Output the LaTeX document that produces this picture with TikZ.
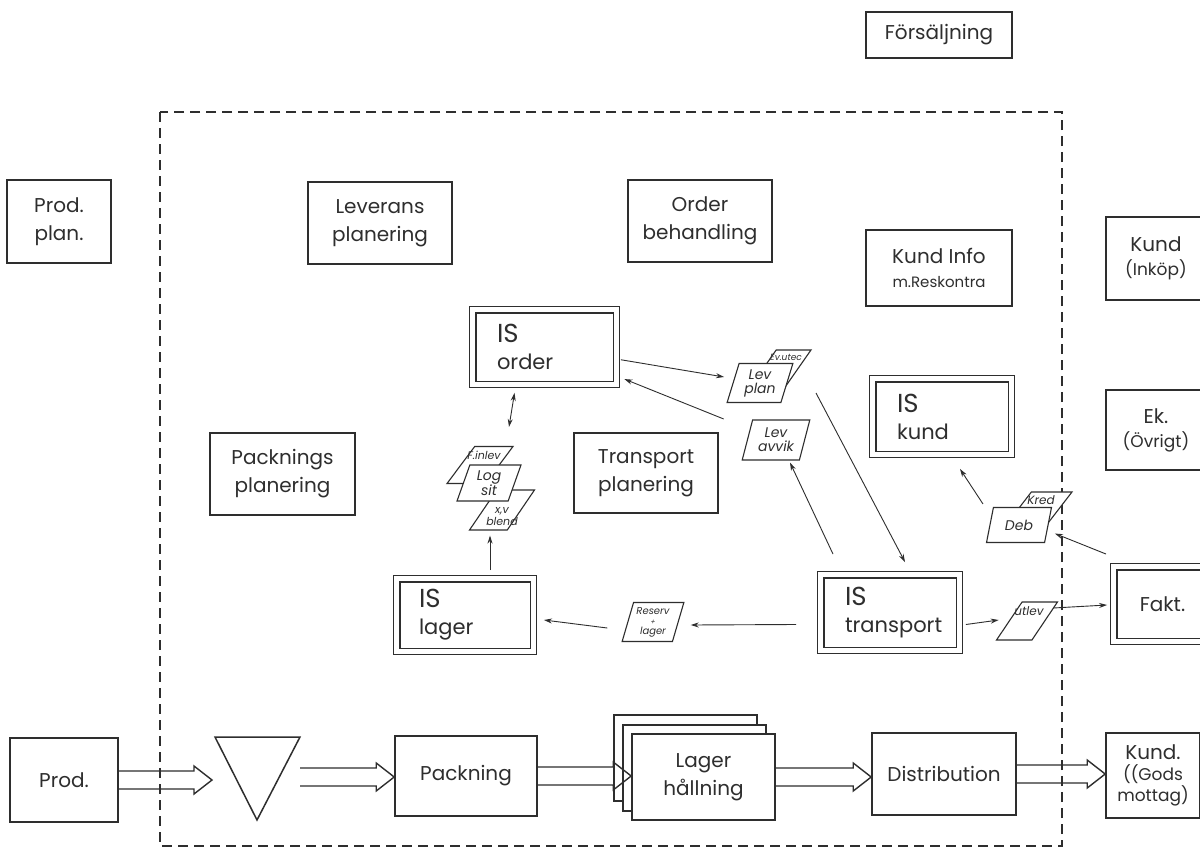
\documentclass[tikz,border=0pt]{standalone}
\usepackage{fontspec}
\setmainfont{Poppins}
\usetikzlibrary{shapes.geometric,arrows.meta,calc}
\definecolor{ink}{HTML}{2E2E2E}
\tikzset{
  >={Stealth[length=8pt,width=5pt]},
  box/.style={draw=ink, line width=1.6pt, inner sep=0pt, align=center, text=ink,
    font=\fontsize{20}{28}\selectfont},
  dbox/.style={draw=ink, line width=1.3pt, double=white, double distance=5pt,
    inner sep=0pt, align=left, text=ink, font=\fontsize{21}{27}\selectfont},
  doc/.style={draw=ink, fill=white, line width=1.1pt, trapezium, trapezium left angle=72,
    trapezium right angle=108, trapezium stretches=true, inner sep=1pt, align=center,
    text=ink, font=\itshape\fontsize{14}{14}\selectfont},
  docfont/.style={text=ink, inner sep=0pt, align=center, font=\itshape\fontsize{13}{14}\selectfont},
  conn/.style={draw=ink, line width=0.9pt, ->},
  flowline/.style={draw=ink, line width=1.4pt, line join=miter},
  flow/.style={to path={let \p1=(\tikztostart), \p2=(\tikztotarget) in
    (\x1,\y1+9pt) -- (\x2-18pt,\y1+9pt) -- (\x2-18pt,\y1+14pt) -- (\x2,\y1)
    -- (\x2-18pt,\y1-14pt) -- (\x2-18pt,\y1-9pt) -- (\x1,\y1-9pt)}},
  boundary/.style={draw=ink, line width=1.3pt, dash pattern=on 10pt off 6pt}
}
\newcommand\IS[1]{{\fontsize{26}{27}\selectfont IS}\\#1}
\begin{document}
\begin{tikzpicture}[x=1pt,y=-1pt]
\path[use as bounding box] (0,0) rectangle (1200,851);
\clip (0,0) rectangle (1200,851);
\fill[white] (0,0) rectangle (1200,851);

% system boundary
\draw[boundary] (160,112) rectangle (1062,846);

% plain boxes
\node[box, minimum width=146pt, minimum height=46pt] (forsalj) at (939,35) {Försäljning};
\node[box, minimum width=104pt, minimum height=83pt] (prodplan) at (59,221.5) {Prod.\\plan.};
\node[box, minimum width=144pt, minimum height=82pt] (leverans) at (380,223) {Leverans\\planering};
\node[box, minimum width=144pt, minimum height=82pt] (orderbeh) at (700,221) {Order\\behandling};
\node[box, minimum width=146pt, minimum height=76pt] (kundinfo) at (939,268) {Kund Info\\[-4pt]{\fontsize{15}{20}\selectfont m.Reskontra}};
\node[box, minimum width=100pt, minimum height=83pt] (kundinkop) at (1156,258.5) {Kund\\[-4pt]{\fontsize{17}{22}\selectfont (Inköp)}};
\node[box, minimum width=100pt, minimum height=80pt] (ek) at (1156,430) {Ek.\\[-4pt]{\fontsize{17}{22}\selectfont (Övrigt)}};
\node[box, minimum width=145pt, minimum height=82pt] (packplan) at (282.5,474) {Packnings\\planering};
\node[box, minimum width=144pt, minimum height=80pt] (transplan) at (646,473) {Transport\\planering};

% IS boxes (double border)
\node[dbox, minimum width=143.6pt, minimum height=74.6pt, text width=95pt] (isorder) at (544.5,347) {\IS{order}};
\node[dbox, minimum width=138.6pt, minimum height=75.6pt, text width=90pt] (iskund) at (942,416.5) {\IS{kund}};
\node[dbox, minimum width=136.6pt, minimum height=72.6pt, text width=92pt] (islager) at (465,615) {\IS{lager}};
\node[dbox, minimum width=138.6pt, minimum height=75.6pt, text width=90pt] (istransport) at (890,612.5) {\IS{transport}};
\node[dbox, minimum width=97.6pt, minimum height=74.6pt, align=center, font=\fontsize{20}{24}\selectfont] (fakt) at (1162.5,604) {Fakt.};

% material flow
\node[box, minimum width=108pt, minimum height=84pt] (prod) at (64,780) {Prod.};
\draw[draw=ink, line width=1.5pt, line join=miter] (215,737) -- (300,737) -- (257,820) -- cycle;
\coordinate (trileft) at (212,780);
\coordinate (triright) at (300,777);
\node[box, minimum width=142pt, minimum height=80pt] (packning) at (466,776) {Packning};
\draw[draw=ink, fill=white, line width=1.5pt] (614,715) rectangle (757,801);
\draw[draw=ink, fill=white, line width=1.5pt] (623,725) rectangle (766,811);
\node[box, fill=white, minimum width=143pt, minimum height=86pt] (lager) at (703.5,777) {Lager\\hållning};
\node[box, minimum width=144pt, minimum height=82pt] (distribution) at (944,774) {Distribution};
\node[box, minimum width=94pt, minimum height=85pt, font=\fontsize{17}{21}\selectfont] (kundgods) at (1153,775.5) {{\fontsize{20}{24}\selectfont Kund.}\\((Gods\\mottag)};

\draw[flowline] (prod.east) to[flow] (trileft);
\draw[flowline] (triright) to[flow] (packning.west);
\draw[flowline] (packning.east) to[flow] (lager.west);
\draw[flowline] (lager.east) to[flow] (distribution.west);
\draw[flowline] (distribution.east) to[flow] (kundgods.west);

% documents
\node[doc, minimum width=60pt, minimum height=36pt] (evutec) at (781,368) {\strut};
\node[docfont, font=\itshape\fontsize{9}{10}\selectfont] (evutectxt) at ($(evutec.north)+(5,8)$) {Ev.utec};
\node[doc, minimum width=66pt, minimum height=39pt] (levplan) at (760,383) {Lev\\plan};
\node[doc, minimum width=68pt, minimum height=40pt] (levavvik) at (776,440) {Lev\\avvik};
\node[doc, minimum width=66pt, minimum height=37pt] (finlev) at (480,465) {\strut};
\node[docfont, font=\itshape\fontsize{11}{12}\selectfont] (finlevtxt) at ($(finlev.north)+(4,9)$) {F.inlev};
\node[doc, minimum width=65pt, minimum height=40pt] (xvblend) at (502,510) {\strut};
\node[docfont, font=\itshape\fontsize{11}{12}\selectfont] (xvblendtxt) at ($(xvblend.south)+(0,-14)$) {x,v\\blend};
\node[doc, minimum width=64pt, minimum height=36pt] (logsit) at (489,483) {Log\\sit};
\node[doc, minimum width=62pt, minimum height=39pt, font=\itshape\fontsize{10}{11}\selectfont] (reserv) at (653,622) {Reserv\\[-1pt]{\fontsize{7}{7}\selectfont +}\\[-1pt]lager};
\node[doc, minimum width=70pt, minimum height=38pt] (kred) at (1037,511) {\strut};
\node[docfont, font=\itshape\fontsize{12}{13}\selectfont] (kredtxt) at ($(kred.north)+(4,9)$) {Kred};
\node[doc, minimum width=65pt, minimum height=35pt] (deb) at (1019,525) {Deb};
\node[doc, minimum width=61pt, minimum height=38pt] (utlev) at (1027,621) {\strut};
\node[docfont, font=\itshape\fontsize{12}{13}\selectfont] (utlevtxt) at ($(utlev.north)+(2,10)$) {utlev};

% information flow
\draw[conn, shorten <=4pt, shorten >=10pt] (isorder) -- (levplan);
\draw[conn, shorten <=28pt, shorten >=8pt] (levavvik) -- (isorder);
\draw[conn] ($(evutec)+(35,25)$) -- ($(istransport.north)+(15,-12)$);
\draw[conn] ($(istransport.north)+(-57,-20)$) -- ($(levavvik.south)+(14,2)$);
\draw[conn] ($(istransport.west)+(-24,12)$) -- ($(reserv.east)+(12,3)$);
\draw[conn] ($(reserv.west)+(-20,6)$) -- ($(islager.east)+(10,5)$);
\draw[conn] ($(islager.north)+(25,-8)$) -- ($(xvblend.south)+(-12,5)$);
\draw[conn, <->] ($(finlev.north)+(29,-19)$) -- ($(isorder.south)+(-30,8)$);
\draw[conn] ($(istransport.east)+(6,12)$) -- ($(utlev.west)+(-10,-1)$);
\draw[conn] ($(utlev.east)+(8,-13)$) -- ($(fakt.west)+(-6,1)$);
\draw[conn] ($(fakt.north west)+(-7,-12)$) -- ($(kred.bottom right corner)+(12,3)$);
\draw[conn] ($(deb.top left corner)+(-10,-3)$) -- ($(iskund.south)+(18,14)$);
\end{tikzpicture}
\end{document}
